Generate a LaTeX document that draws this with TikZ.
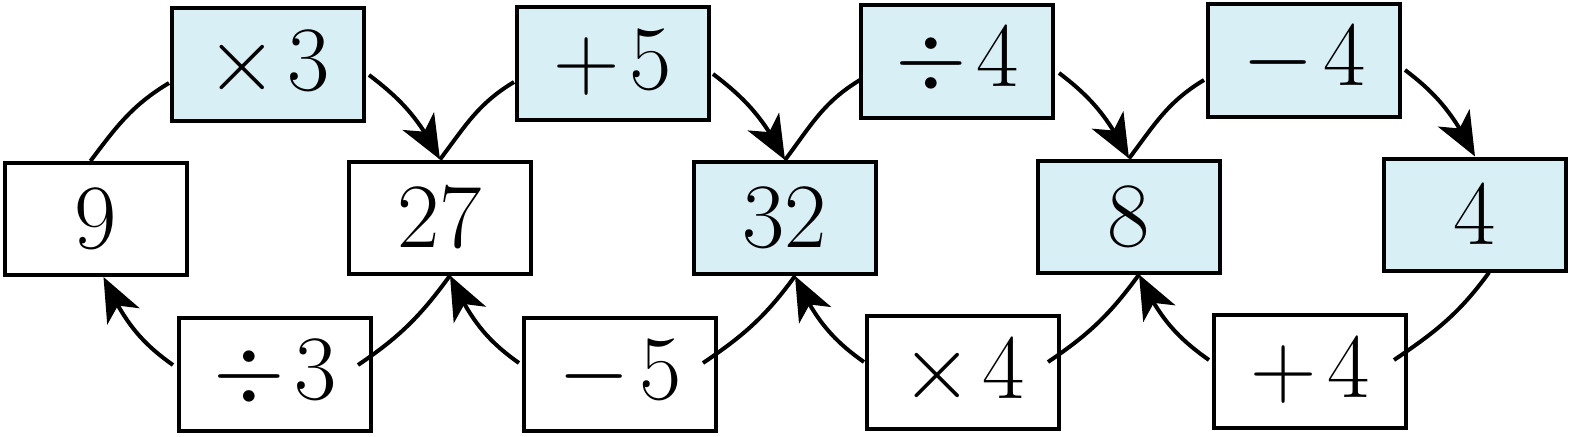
\documentclass[tikz,border=0pt]{standalone}
\usetikzlibrary{arrows.meta,bending}
\definecolor{opblue}{RGB}{217,239,246}
\newcommand{\bigmath}[1]{\scalebox{2.662}{\LARGE$#1$}}
\newcommand{\opgap}{\mkern2mu}
\begin{document}
\begin{tikzpicture}[x=0.5pt,y=0.5pt,
  numbox/.style={draw,line width=2pt,minimum width=91pt,minimum height=56pt,inner sep=0pt},
  opbox/.style={draw,line width=2pt,minimum width=96pt,minimum height=56.5pt,inner sep=0pt},
  hl/.style={fill=opblue},
  conn/.style={line width=2pt},
  arr/.style={conn,-{Stealth[length=22pt,width=18pt,inset=6pt]}}]
\useasboundingbox (0,0) rectangle (1570,436);
% value boxes
\node[numbox] (n9) at (95.5,217) {\bigmath{9}};
\node[numbox] (n27) at (440,218.5) {\bigmath{27}};
\node[numbox,hl] (n32) at (785,218) {\bigmath{32}};
\node[numbox,hl] (n8) at (1129,219.5) {\bigmath{8}};
\node[numbox,hl] (n4) at (1475,221.5) {\bigmath{4}};
% operation boxes
\node[opbox,hl] (t1) at (268,371.5) {\bigmath{\times\opgap 3}};
\node[opbox,hl] (t2) at (612.5,373) {\bigmath{+\opgap 5}};
\node[opbox,hl] (t3) at (957,375) {\bigmath{\div\opgap 4}};
\node[opbox,hl] (t4) at (1304,376) {\bigmath{-\opgap 4}};
\node[opbox] (b1) at (275,62) {\bigmath{\div\opgap 3}};
\node[opbox] (b2) at (620,62) {\bigmath{-\opgap 5}};
\node[opbox] (b3) at (963,63.5) {\bigmath{\times\opgap 4}};
\node[opbox] (b4) at (1310,65) {\bigmath{+\opgap 4}};
% arc ends at the operation boxes
\coordinate (t1l) at (169,353); \coordinate (t1r) at (369,361);
\coordinate (t2l) at (514,354); \coordinate (t2r) at (713,362);
\coordinate (t3l) at (860,356); \coordinate (t3r) at (1059,363);
\coordinate (t4l) at (1204,356); \coordinate (t4r) at (1405,366);
\coordinate (b1r) at (358,71); \coordinate (b1l) at (173,71);
\coordinate (b2r) at (703,73); \coordinate (b2l) at (519,73);
\coordinate (b3r) at (1048,74); \coordinate (b3l) at (864,74);
\coordinate (b4r) at (1394,76); \coordinate (b4l) at (1209,76);
% top arcs
\draw[conn] ([xshift=-2.5pt]n9.north) to[out=53,in=211] (t1l);
\draw[arr] (t1r) to[out=-37,in=117] (n27.north);
\draw[conn] (n27.north) to[out=53,in=211] (t2l);
\draw[arr] (t2r) to[out=-37,in=117] (n32.north);
\draw[conn] (n32.north) to[out=53,in=211] (t3l);
\draw[arr] (t3r) to[out=-37,in=117] (n8.north);
\draw[conn] (n8.north) to[out=53,in=211] (t4l);
\draw[arr] (t4r) to[out=-37,in=117] (n4.north);
% bottom arcs
\draw[conn] ([xshift=5pt]n27.south) to[out=-126,in=34] (b1r);
\draw[arr] (b1l) to[out=145,in=-65] ([xshift=4pt]n9.south);
\draw[conn] ([xshift=5pt]n32.south) to[out=-126,in=34] (b2r);
\draw[arr] (b2l) to[out=145,in=-65] ([xshift=5pt]n27.south);
\draw[conn] ([xshift=5pt]n8.south) to[out=-126,in=34] (b3r);
\draw[arr] (b3l) to[out=145,in=-65] ([xshift=5pt]n32.south);
\draw[conn] ([xshift=7pt]n4.south) to[out=-126,in=34] (b4r);
\draw[arr] (b4l) to[out=145,in=-65] ([xshift=5pt]n8.south);
\end{tikzpicture}
\end{document}
